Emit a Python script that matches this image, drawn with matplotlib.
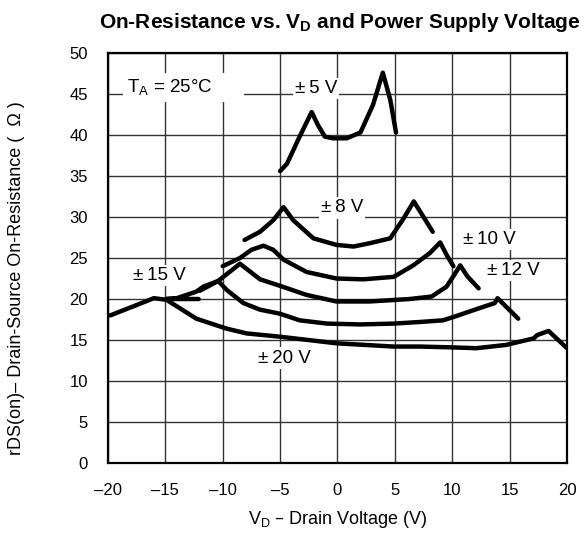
import matplotlib
matplotlib.use("Agg")
import matplotlib.pyplot as plt

plt.rcParams['font.family'] = ['Liberation Sans', 'DejaVu Sans']

# ---- data ----
x5 = [-5.0, -4.4, -3.3, -2.25, -1.7, -1.1, -0.4, 0.8, 2.0, 3.1, 3.95, 4.6, 5.1]
y5 = [35.6, 36.5, 39.8, 42.8, 41.2, 39.8, 39.6, 39.6, 40.3, 43.7, 47.6, 44.3, 40.3]

x8 = [-8.1, -6.75, -5.6, -4.7, -3.85, -2.1, -0.1, 1.4, 2.8, 4.6, 5.75, 6.65, 7.5, 8.3]
y8 = [27.2, 28.2, 29.6, 31.2, 29.6, 27.4, 26.6, 26.4, 26.8, 27.4, 29.8, 31.9, 30.0, 28.2]

x10 = [-10.0, -8.5, -7.5, -6.45, -5.6, -4.7, -2.7, -0.1, 2.25, 4.9, 6.6, 8.05, 8.95, 9.5, 10.1]
y10 = [24.0, 25.0, 26.0, 26.5, 26.0, 24.8, 23.3, 22.5, 22.4, 22.7, 24.1, 25.6, 26.9, 25.4, 24.0]

x12 = [-12.0, -10.4, -8.5, -6.75, -5.0, -2.7, -0.1, 2.8, 6.3, 8.2, 9.5, 10.2, 10.7, 11.3, 12.3]
y12 = [21.0, 22.2, 24.3, 22.4, 21.6, 20.5, 19.7, 19.7, 20.0, 20.3, 21.5, 23.0, 24.1, 22.8, 21.3]

x15 = [-12.1, -14.9, -14.0, -12.3, -11.7, -10.4, -9.65, -8.2, -6.75, -5.0, -3.3, -0.9,
       2.0, 4.9, 7.2, 9.2, 10.1, 12.4, 13.7, 13.95, 15.75]
y15 = [20.0, 20.0, 20.1, 20.9, 21.5, 22.2, 21.1, 19.5, 18.7, 18.2, 17.4, 17.0,
       16.9, 17.0, 17.2, 17.4, 17.8, 18.9, 19.5, 20.1, 17.6]

x20 = [-19.8, -17.8, -16.0, -14.9, -12.3, -9.7, -7.9, -5.0, -0.1, 4.9, 7.2, 10.0,
       12.1, 14.7, 15.9, 17.1, 17.4, 18.4, 20.0]
y20 = [18.0, 19.1, 20.1, 19.9, 17.6, 16.4, 15.8, 15.4, 14.6, 14.2, 14.2, 14.1,
       14.0, 14.4, 14.8, 15.2, 15.6, 16.1, 14.0]

series = [(x5, y5), (x8, y8), (x10, y10), (x12, y12), (x15, y15), (x20, y20)]

curve_labels = ["±\u20095 V", "±\u20098 V", "±\u200910 V", "±\u200912 V", "±\u200915 V", "±\u200920 V"]
label_pos = [(-1.87, 45.7), (0.4, 31.1), (13.2, 27.3), (15.3, 23.5), (-15.5, 22.9), (-4.66, 12.8)]

x_ticks = [-20, -15, -10, -5, 0, 5, 10, 15, 20]
x_ticklabels = ["–20", "–15", "–10", "–5", "0", "5", "10", "15", "20"]
y_ticks = [0, 5, 10, 15, 20, 25, 30, 35, 40, 45, 50]

# ---- figure ----
fig = plt.figure(figsize=(5.85, 5.36), dpi=100)
ax = fig.add_axes([0.1846, 0.1362, 0.9692 - 0.1846, 0.9011 - 0.1362])

ax.set_xlim(-20, 20)
ax.set_ylim(0, 50)
ax.set_xticks(x_ticks)
ax.set_xticklabels(x_ticklabels)
ax.set_yticks(y_ticks)
ax.tick_params(axis='both', length=0, labelsize=12)
ax.tick_params(axis='x', pad=14.5)
ax.tick_params(axis='y', pad=14.5)
ax.grid(True, color='#333333', linewidth=1.0, zorder=0)
ax.set_axisbelow(True)
for s in ax.spines.values():
    s.set_linewidth(1.6)
    s.set_color('black')

for xs, ys in series:
    ax.plot(xs, ys, color='black', linewidth=3.2, solid_capstyle='round',
            solid_joinstyle='round', zorder=4)

box = dict(facecolor='white', edgecolor='none', pad=1.5)
for txt, (lx, ly) in zip(curve_labels, label_pos):
    ax.text(lx, ly, txt, ha='center', va='center', fontsize=13.5, bbox=box, zorder=3)

ax.text(-18.3, 45.8, r"T$_\mathregular{A}$ = 25°C      ", ha='left', va='center', fontsize=13.5,
        bbox=dict(facecolor='white', edgecolor='none', pad=3), zorder=3)

fig.text(0.580, 0.947, r"On-Resistance vs. V$_\mathregular{D}$ and Power Supply Voltage",
         ha='center', va='baseline', fontsize=15, fontweight='bold')
fig.text(0.578, 0.022, r"V$_\mathregular{D}$ – Drain Voltage (V)", ha='center', va='baseline',
         fontsize=13)
fig.text(0.029, 0.482, "rDS(on)– Drain-Source On-Resistance (  Ω )", rotation=90,
         ha='center', va='center', fontsize=13)

fig.savefig("out.png", dpi=100)
